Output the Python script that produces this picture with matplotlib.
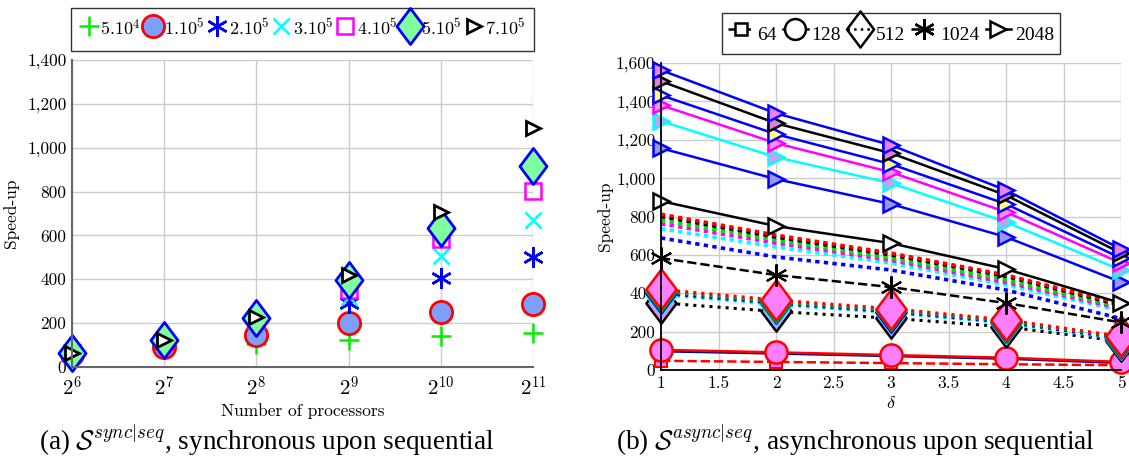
import matplotlib
matplotlib.use('Agg')
import matplotlib.pyplot as plt
from matplotlib.lines import Line2D
from matplotlib.path import Path

plt.rcParams['mathtext.fontset'] = 'cm'
plt.rcParams['font.family'] = ['Liberation Serif', 'DejaVu Serif']

# ---- left chart: synchronous upon sequential ----
procs = [64, 128, 256, 512, 1024, 2048]
proc_labels = ['$2^{6}$', '$2^{7}$', '$2^{8}$', '$2^{9}$', '$2^{10}$', '$2^{11}$']
size_labels = ['$5.10^{4}$', '$1.10^{5}$', '$2.10^{5}$', '$3.10^{5}$', '$4.10^{5}$', '$5.10^{5}$', '$7.10^{5}$']
s5e4 = [55, 85, 105, 123, 141, 155]
s1e5 = [60, 91, 146, 200, 251, 287]
s2e5 = [62, 110, 200, 292, 405, 501]
s3e5 = [63, 115, 210, 318, 506, 670]
s4e5 = [64, 118, 215, 351, 584, 803]
s5e5 = [64, 123, 224, 397, 634, 917]
s7e5 = [64, 123, 230, 420, 707, 1090]

# ---- right chart: asynchronous upon sequential ----
delta = [1, 2, 3, 4, 5]
# 2048 processors (solid, triangles)
p2048 = [
    [1563, 1338, 1172, 937, 630],
    [1505, 1286, 1130, 911, 609],
    [1432, 1229, 1073, 865, 583],
    [1380, 1182, 1031, 823, 557],
    [1297, 1109, 974, 771, 521],
    [1156, 995, 865, 693, 458],
    [880, 750, 661, 526, 349],
]
p2048_colors = ['blue', 'black', 'blue', 'magenta', 'cyan', 'blue', 'black']
p2048_fills = ['#f080f0', '#e080e0', '#ffff80', '#f090f0', '#c8a0f0', '#9898f0', 'white']
# 1024 processors (dashed)
p1024 = [
    [812, 703, 609, 495, 345],
    [800, 693, 600, 488, 338],
    [780, 677, 583, 469, 328],
    [762, 661, 572, 456, 320],
    [736, 641, 557, 443, 310],
    [688, 589, 521, 417, 268],
]
p1024_colors = ['red', 'black', '#00dd00', 'magenta', 'cyan', 'blue']
p1024_star = [583, 495, 432, 349, 248]
# 512 processors (dotted, diamonds)
p512 = [
    [420, 365, 320, 262, 175],
    [410, 356, 311, 256, 170],
    [400, 348, 303, 249, 165],
    [392, 340, 297, 244, 160],
    [350, 305, 270, 225, 150],
]
p512_colors = ['red', '#00aa00', 'blue', 'cyan', 'black']
# 128 processors (solid, circles)
p128_red = [105, 92, 78, 64, 42]
p128_blue = [98, 86, 73, 59, 37]
# 64 processors (dashed, squares)
p64_red = [48, 42, 36, 30, 25]

legend_procs = ['64', '128', '512', '1024', '2048']

diamond = Path([(0, 1), (0.75, 0), (0, -1), (-0.75, 0), (0, 1)],
               [Path.MOVETO, Path.LINETO, Path.LINETO, Path.LINETO, Path.CLOSEPOLY])

fig = plt.figure(figsize=(11.29, 4.66), dpi=100)
ax1 = fig.add_axes([72/1129, 1-367/466, 461/1129, 307/466])
ax2 = fig.add_axes([661/1129, 1-370/466, 460/1129, 307/466])

# left chart
ax1.set_xscale('log', base=2)
h = []
h += ax1.plot(procs, s5e4, ls='none', marker='+', ms=14, mew=1.8, color='#00ee00', clip_on=False)
h += ax1.plot(procs, s1e5, ls='none', marker='o', ms=16, mew=2, mec='red', mfc='#7f9fff', clip_on=False)
h += ax1.plot(procs, s2e5, ls='none', marker=(6, 2, 0), ms=15, mew=1.8, color='blue', clip_on=False)
h += ax1.plot(procs, s3e5, ls='none', marker='x', ms=11, mew=1.8, color='cyan', clip_on=False)
h += ax1.plot(procs, s4e5, ls='none', marker='s', ms=11, mew=1.8, mec='magenta', mfc='none', clip_on=False)
h += ax1.plot(procs, s5e5, ls='none', marker=diamond, ms=26, mew=2, mec='blue', mfc='#80ff9f', clip_on=False)
h += ax1.plot(procs, s7e5, ls='none', marker='>', ms=10, mew=2, mec='black', mfc='white', clip_on=False)
ax1.set_xlim(64, 2048)
ax1.set_ylim(0, 1400)
ax1.set_xticks(procs)
ax1.set_xticklabels(proc_labels, fontsize=15)
ax1.minorticks_off()
ax1.set_yticks(range(0, 1401, 200))
ax1.set_yticklabels([f'{v:,}' for v in range(0, 1401, 200)], fontfamily='cmr10', fontsize=12.5)
ax1.grid(True, color='#cccccc', lw=1)
ax1.set_axisbelow(True)
for s in ['top', 'right']:
    ax1.spines[s].set_visible(False)
for s in ['left', 'bottom']:
    ax1.spines[s].set_color('#666666')
    ax1.spines[s].set_linewidth(1.5)
ax1.tick_params(length=0, pad=4)
ax1.tick_params(axis='x', pad=7)
ax1.set_xlabel('Number of processors', fontfamily='cmr10', fontsize=12.5, labelpad=2)
ax1.set_ylabel('Speed-up', fontfamily='cmr10', fontsize=12.5, labelpad=6)
leg1 = ax1.legend(h, size_labels, loc='lower center', bbox_to_anchor=(0.5, 1.03),
                  ncol=7, fontsize=13, handletextpad=0.1, columnspacing=0.15, handlelength=1.05,
                  handleheight=1.9, borderpad=0.45, borderaxespad=0, fancybox=False, edgecolor='black')
leg1.get_frame().set_linewidth(1)

# right chart
lw = 1.8
ax2.plot(delta, p64_red, ls='--', lw=lw, color='red', marker='s', ms=9, mfc='#ff80ff', mec='red', mew=1.5, clip_on=False)
ax2.plot(delta, p128_blue, ls='-', lw=lw, color='#000080', clip_on=False)
ax2.plot(delta, p128_red, ls='-', lw=lw, color='red', marker='o', ms=16, mfc='#ff80ff', mec='red', mew=1.8, clip_on=False)
for vals, c in zip(p512[::-1], p512_colors[::-1]):
    ax2.plot(delta, vals, ls=':', lw=2.2, color=c, marker=diamond, ms=29,
             mfc='#ff80ff', mec=c, mew=1.8, clip_on=False)
ax2.plot(delta, p1024_star, ls='--', lw=lw, color='black', marker=(6, 2, 0), ms=16, mew=1.5, clip_on=False)
for vals, c in zip(p1024[::-1], p1024_colors[::-1]):
    ax2.plot(delta, vals, ls=(0, (1.2, 1.2)), lw=2.6, color=c, clip_on=False)
for vals, c, f in zip(p2048[::-1], p2048_colors[::-1], p2048_fills[::-1]):
    ax2.plot(delta, vals, ls='-', lw=lw, color=c, marker='>', ms=11, mfc=f, mec=c, mew=1.8, clip_on=False)
ax2.set_xlim(1, 5)
ax2.set_ylim(0, 1600)
xt = [1, 1.5, 2, 2.5, 3, 3.5, 4, 4.5, 5]
ax2.set_xticks(xt)
ax2.set_xticklabels([f'{v:g}' for v in xt], fontfamily='cmr10', fontsize=12.5)
ax2.set_yticks(range(0, 1601, 200))
ax2.set_yticklabels([f'{v:,}' for v in range(0, 1601, 200)], fontfamily='cmr10', fontsize=12.5)
ax2.grid(True, color='#cccccc', lw=1)
ax2.set_axisbelow(True)
for s in ['top', 'right']:
    ax2.spines[s].set_visible(False)
for s in ['left', 'bottom']:
    ax2.spines[s].set_linewidth(1.3)
ax2.tick_params(length=0, pad=4)
ax2.set_xlabel(r'$\delta$', fontsize=13, labelpad=3)
ax2.set_ylabel('Speed-up', fontfamily='cmr10', fontsize=12.5, labelpad=2)

hs = [
    Line2D([], [], ls='--', lw=1.8, color='black', marker='s', ms=8, mfc='white', mew=1.8),
    Line2D([], [], ls='-', lw=1.8, color='black', marker='o', ms=15, mfc='white', mew=1.8),
    Line2D([], [], ls=':', lw=1.8, color='black', marker=diamond, ms=26, mfc='none', mew=1.8),
    Line2D([], [], ls='--', lw=1.8, color='black', marker=(6, 2, 0), ms=15, mew=1.8),
    Line2D([], [], ls='-', lw=1.8, color='black', marker='>', ms=11, mfc='white', mew=1.8),
]
leg2 = ax2.legend(hs, legend_procs, loc='lower center', bbox_to_anchor=(0.5, 1.03), ncol=5,
                  fontsize=14, handletextpad=0.2, columnspacing=0.3, handlelength=1.3,
                  handleheight=1.9, borderpad=0.3, fancybox=False, edgecolor='black', borderaxespad=0)
leg2.get_frame().set_linewidth(1)

fig.text(267/1129, 1-440/466, r'(a) $\mathcal{S}^{sync|seq}$, synchronous upon sequential',
         ha='center', va='center', fontsize=19.5)
fig.text(855/1129, 1-440/466, r'(b) $\mathcal{S}^{async|seq}$, asynchronous upon sequential',
         ha='center', va='center', fontsize=19.5)

fig.savefig('out.png', dpi=100)
